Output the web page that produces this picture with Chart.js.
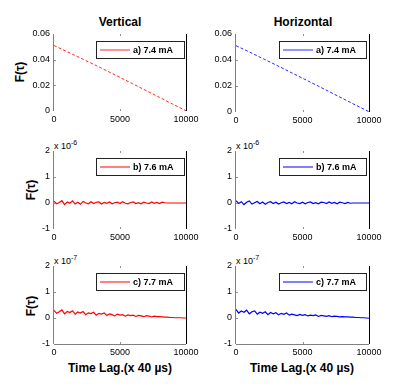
<!DOCTYPE html>
<html><head><meta charset="utf-8">
<script src="https://cdn.jsdelivr.net/npm/chart.js@4/dist/chart.umd.min.js"></script>
<style>
html,body{margin:0;padding:0;background:#fff;}
#wrap{position:relative;width:415px;height:387px;background:#fff;overflow:hidden;font-family:"Liberation Sans",Arial,sans-serif;}
canvas{position:absolute;}
.t{position:absolute;font-weight:bold;color:#000;white-space:nowrap;}
.ylab{position:absolute;font-weight:bold;font-size:12px;transform:translate(-50%,-50%) rotate(-90deg);white-space:nowrap;}
.exp{position:absolute;font-size:9px;white-space:nowrap;}
.exp sup{font-size:7px;}
</style></head>
<body><div id="wrap">
<div class="t" style="left:120px;top:22px;font-size:12px;transform:translate(-50%,-50%)">Vertical</div>
<div class="t" style="left:303px;top:22px;font-size:12px;transform:translate(-50%,-50%)">Horizontal</div>
<div class="ylab" style="left:20px;top:72px">F(τ)</div>
<div class="ylab" style="left:31px;top:190px">F(τ)</div>
<div class="ylab" style="left:31px;top:306px">F(τ)</div>
<div class="exp" style="left:54px;top:139px">x 10<sup>-6</sup></div>
<div class="exp" style="left:236px;top:139px">x 10<sup>-6</sup></div>
<div class="exp" style="left:54px;top:254px">x 10<sup>-7</sup></div>
<div class="exp" style="left:236px;top:254px">x 10<sup>-7</sup></div>
<div class="t" style="left:120px;top:368px;font-size:12px;transform:translate(-50%,-50%)">Time Lag.(x 40 µs)</div>
<div class="t" style="left:302px;top:368px;font-size:12px;transform:translate(-50%,-50%)">Time Lag.(x 40 µs)</div>
</div>
<script>
// ---- data ----
const lagTop = [0,1000,2000,3000,4000,5000,6000,7000,8000,9000,10000];
const vertA = [0.051,0.0462,0.0413,0.0364,0.0313,0.0262,0.0210,0.0158,0.0106,0.0053,0.0002];
const horA  = [0.051,0.0462,0.0412,0.0362,0.0311,0.0260,0.0209,0.0157,0.0105,0.0053,0.0002];
const lag = [0,200,400,600,800,1000,1200,1400,1600,1800,2000,2200,2400,2600,2800,3000,3200,3400,3600,3800,
  4000,4200,4400,4600,4800,5000,5200,5400,5600,5800,6000,6200,6400,6600,6800,7000,7200,7400,7600,7800,
  8000,8200,8400,8600,8800,9000,9200,9400,9600,9800,10000];
const vertB = [0.07,-0.03,0.02,0.09,-0.06,0.04,-0.01,0.08,-0.04,0.03,
  -0.05,0.06,0.01,-0.03,0.05,-0.02,0.03,0.04,-0.04,0.02,
  -0.01,0.04,-0.03,0.01,0.03,-0.02,0.05,-0.01,-0.03,0.02,
  0.04,-0.02,0.01,-0.03,0.03,0.00,-0.02,0.04,-0.01,0.02,
  -0.02,0.03,0.01,0.00,0.00,0.00,0.00,0.00,0.00,0.00,0.00];
const horB = [0.09,-0.02,0.05,-0.06,0.03,0.08,-0.04,0.01,0.06,-0.03,
  0.04,-0.05,0.02,0.05,-0.02,0.03,-0.04,0.01,0.04,-0.02,
  0.02,-0.03,0.05,0.00,-0.02,0.03,-0.03,0.02,0.04,-0.02,
  0.01,-0.03,0.03,0.02,-0.02,0.04,-0.01,0.02,-0.03,0.03,
  0.01,-0.02,0.02,-0.01,0.00,0.00,0.00,0.00,0.00,0.00,0.00];
const vertC = [0.29,0.18,0.24,0.31,0.16,0.25,0.21,0.28,0.15,0.23,
  0.19,0.25,0.13,0.20,0.17,0.22,0.11,0.18,0.15,0.19,
  0.10,0.16,0.13,0.08,0.15,0.11,0.13,0.07,0.12,0.09,
  0.11,0.06,0.10,0.08,0.05,0.09,0.07,0.04,0.07,0.05,
  0.05,0.04,0.03,0.03,0.02,0.02,0.01,0.01,0.01,0.00,0.00];
const horC = [0.33,0.19,0.27,0.22,0.30,0.16,0.24,0.27,0.15,0.22,
  0.18,0.24,0.13,0.21,0.16,0.20,0.12,0.18,0.14,0.19,
  0.11,0.15,0.12,0.09,0.14,0.10,0.13,0.08,0.11,0.09,
  0.12,0.06,0.10,0.08,0.06,0.09,0.05,0.07,0.06,0.04,
  0.05,0.04,0.04,0.03,0.03,0.02,0.02,0.01,0.01,0.00,-0.01];
const labels = ['a) 7.4 mA','b) 7.6 mA','c) 7.7 mA'];
const topTicks = [0,0.02,0.04,0.06];
const lowTicks = [-1,0,1,2];
const xTicks = [0,5000,10000];

const FONT = '"Liberation Sans", Arial, sans-serif';

const framePlugin = {
  id:'frame',
  afterDraw(chart){
    const a = chart.chartArea, c = chart.ctx, o = chart.options.plugins.frame;
    c.save();
    c.strokeStyle = '#000'; c.lineWidth = 1;
    c.beginPath(); c.moveTo(Math.round(a.right)+0.5, a.top); c.lineTo(Math.round(a.right)+0.5, a.bottom); c.stroke();
    c.strokeStyle = '#808080';
    c.beginPath(); c.moveTo(Math.round(a.left)-0.5, a.top); c.lineTo(Math.round(a.left)-0.5, a.bottom); c.stroke();
    if (o.bottomLine){
      c.beginPath(); c.moveTo(a.left, Math.round(a.bottom)+0.5); c.lineTo(a.right, Math.round(a.bottom)+0.5); c.stroke();
    }
    const ys = chart.scales.y, xs = chart.scales.x;
    c.strokeStyle = '#909090';
    ys.ticks.forEach(t=>{ const y = Math.round(ys.getPixelForValue(t.value))+0.5;
      if (y>a.top+2 && y<a.bottom-2){ c.beginPath(); c.moveTo(a.left, y); c.lineTo(a.left+2, y); c.stroke(); } });
    const xm = Math.round(xs.getPixelForValue(5000))+0.5;
    c.beginPath(); c.moveTo(xm, a.top); c.lineTo(xm, a.top+2); c.stroke();
    c.beginPath(); c.moveTo(xm, a.bottom); c.lineTo(xm, a.bottom-2); c.stroke();
    const ds = chart.data.datasets[0];
    const bw = o.legW, bh = 17;
    const bx = Math.round(a.right) - o.legRight - bw, by = Math.round(a.top) + 7;
    c.fillStyle = '#fff'; c.fillRect(bx, by, bw, bh);
    c.strokeStyle = '#222'; c.lineWidth = 1;
    c.strokeRect(bx+0.5, by+0.5, bw, bh);
    c.strokeStyle = ds.borderColor; c.lineWidth = 1;
    c.beginPath(); c.moveTo(bx+4, by+9); c.lineTo(bx+34, by+9); c.stroke();
    c.fillStyle = '#000'; c.font = 'bold 9px '+FONT; c.textBaseline='middle'; c.textAlign='left';
    c.fillText(ds.label, bx+37, by+9.5);
    c.restore();
  }
};

function makePanel(id, left, top, w, h, area, lagArr, vals, label, color, yTicks, bottomLine, legRight, legW, dash, bw){
  const cv = document.createElement('canvas');
  cv.id = id; cv.width = w; cv.height = h;
  cv.style.left = left+'px'; cv.style.top = top+'px';
  cv.style.width = w+'px'; cv.style.height = h+'px';
  document.getElementById('wrap').appendChild(cv);
  const pts = lagArr.map((x,i)=>({x:x, y:vals[i]}));
  new Chart(cv, {
    type:'line',
    data:{datasets:[{label:label, data:pts, borderColor:color, borderWidth:bw, borderDash:dash, pointRadius:0, fill:false, tension:0}]},
    options:{
      responsive:false, animation:false, devicePixelRatio:1,
      layout:{padding:{left:0, top:area.top, right:w-area.right, bottom:0}},
      plugins:{legend:{display:false}, tooltip:{enabled:false},
        frame:{bottomLine:bottomLine, legRight:legRight, legW:legW}},
      scales:{
        x:{type:'linear', min:0, max:10000,
          afterBuildTicks(s){ s.ticks = xTicks.map(v=>({value:v})); },
          afterFit(s){ s.height = h - area.bottom; },
          grid:{display:false, drawTicks:false}, border:{display:false},
          ticks:{font:{family:FONT,size:9}, color:'#000', padding:3, maxRotation:0, autoSkip:false,
            callback:v=>String(v)}},
        y:{type:'linear', min:yTicks[0], max:yTicks[yTicks.length-1],
          afterBuildTicks(s){ s.ticks = yTicks.map(v=>({value:v})); },
          afterFit(s){ s.width = area.left; },
          grid:{display:false, drawTicks:false}, border:{display:false},
          ticks:{font:{family:FONT,size:9}, color:'#000', padding:4, autoSkip:false,
            callback:v=>String(Math.round(v*100)/100)}}
      }
    },
    plugins:[framePlugin]
  });
}

makePanel('c1',0,0,205,130,{left:54,right:186,top:34,bottom:111},lagTop,vertA,labels[0],'rgb(255,40,40)',topTicks,false,2,88,[3,2],1);
makePanel('c2',200,0,215,130,{left:36,right:169,top:34,bottom:112},lagTop,horA,labels[0],'rgb(40,40,255)',topTicks,false,3,87,[3,2],1);
makePanel('c3',0,130,205,115,{left:54,right:186,top:21,bottom:99},lag,vertB,labels[1],'rgb(255,0,0)',lowTicks,false,2,88,[],1.2);
makePanel('c4',200,130,215,115,{left:36,right:169,top:21,bottom:99},lag,horB,labels[1],'rgb(0,0,255)',lowTicks,false,3,87,[],1.2);
makePanel('c5',0,245,205,115,{left:54,right:186,top:21,bottom:99},lag,vertC,labels[2],'rgb(255,0,0)',lowTicks,true,2,88,[],1.2);
makePanel('c6',200,245,215,115,{left:36,right:169,top:21,bottom:99},lag,horC,labels[2],'rgb(0,0,255)',lowTicks,true,3,87,[],1.2);
</script>
</body></html>
